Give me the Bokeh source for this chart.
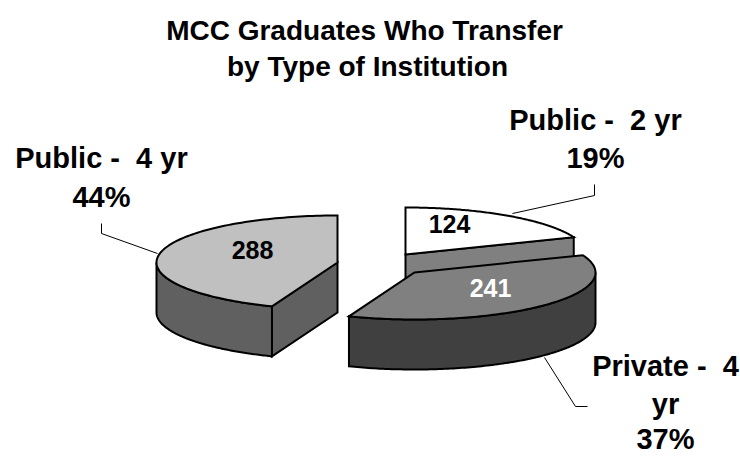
import numpy as np
from bokeh.plotting import figure
from bokeh.models import Range1d
from bokeh.core.properties import value
from bokeh.embed import file_html
from bokeh.resources import INLINE

categories = ["Public - \u00a02 yr", "Private - \u00a04 yr", "Public - \u00a04 yr"]
counts = [124, 241, 288]
shares = ["19%", "37%", "44%"]
title_lines = ["MCC Graduates Who Transfer", "by Type of Institution"]

RX, RY, DEPTH = 181, 47, 50
FONT = value("Liberation Sans")

p = figure(width=740, height=456, x_range=Range1d(0, 740), y_range=Range1d(456, 0),
           output_backend="svg", toolbar_location=None, min_border=0)
p.axis.visible = False
p.grid.visible = False
p.outline_line_color = None

fr = np.cumsum([0] + counts) / sum(counts) * 2 * np.pi
edges = [(fr[i], fr[i + 1]) for i in range(3)]


def ell(cx, cy, a0, a1, n=120):
    t = np.linspace(a0, a1, n)
    return cx + RX * np.sin(t), cy - RY * np.cos(t)


def poly(xs, ys, fill):
    p.patch(list(xs), list(ys), fill_color=fill, line_color="black", line_width=2, line_join="miter")


def pt(cx, cy, a):
    return cx + RX * np.sin(a), cy - RY * np.cos(a)


def side_rim(cx, cy, a0, a1, fill):
    x, y = ell(cx, cy, a0, a1)
    poly(np.r_[x, x[::-1]], np.r_[y, y[::-1] + DEPTH], fill)


def side_cut(x0, y0, x1, y1, fill):
    poly([x0, x1, x1, x0], [y0, y1, y1 + DEPTH, y0 + DEPTH], fill)


def top(cx, cy, a0, a1, fill):
    x, y = ell(cx, cy, a0, a1)
    poly(np.r_[cx, x], np.r_[cy, y], fill)


# Leader lines
for xs, ys in [([157, 101, 101], [253, 233, 223]),
               ([512, 594, 594], [213, 195, 184]),
               ([544, 575, 587], [357, 406, 406])]:
    p.line(xs, ys, line_color="black", line_width=1)

# Public 4 yr (upper-left, exploded left)
c3 = (337, 262)
a0, a1 = edges[2]
ax, ay = pt(*c3, a0)
side_cut(ax, ay, c3[0], c3[1], "#606060")
side_rim(*c3, a0, 1.5 * np.pi, "#606060")
top(*c3, a0, a1, "#c0c0c0")

# Public 2 yr (white, at back)
c1 = (405, 254)
a0, a1 = edges[0]
bx, by = pt(*c1, a1)
side_cut(c1[0], c1[1], bx, by, "#808080")
top(*c1, a0, a1, "#ffffff")

# Private 4 yr (front)
c2 = (414, 272)
a0, a1 = edges[1]
side_rim(*c2, 0.5 * np.pi, a1, "#404040")
top(*c2, a0, a1, "#808080")


def txt(x, y, s, size, color="black"):
    px = int(size[:-2])
    p.text([x], [y - 0.4 * px], text=[s], text_font=FONT, text_font_style="bold", text_font_size=size,
           text_color=color, text_align="center", text_baseline="alphabetic")


LABEL = "29px"
NUM = "25px"
priv_a, priv_b = categories[1].rsplit(" ", 1)
txt(364, 41, title_lines[0], "28px")
txt(367, 77, title_lines[1], "28px")
txt(252, 259, str(counts[2]), NUM)
txt(449, 233, str(counts[0]), NUM)
txt(490, 297, str(counts[1]), NUM, color="white")
txt(595, 131, categories[0], LABEL)
txt(595, 169, shares[0], LABEL)
txt(101, 169, categories[2], LABEL)
txt(101, 208, shares[2], LABEL)
txt(665, 377, priv_a, LABEL)
txt(665, 415, priv_b, LABEL)
txt(665, 450, shares[1], LABEL)

open("out.html", "w").write(file_html(p, INLINE))
